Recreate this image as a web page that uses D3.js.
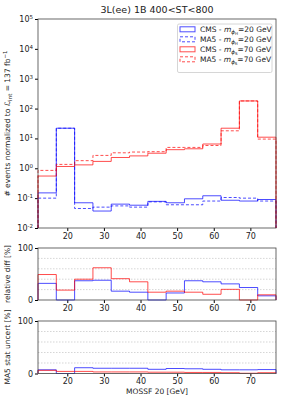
<!DOCTYPE html>
<html>
<head>
	<title>mossf</title>
	<style>
	body { margin: 0; background: #fff; }
	text { font-family: "DejaVu Sans", sans-serif; fill: #222; }
	.tick text { font-size: 8px; }
	.grid line { stroke: #bbb; stroke-dasharray: 1.5,1.5; stroke-width: 0.6; }
	</style>
	<script src="https://d3js.org/d3.v7.min.js"></script>
</head>
<body>
	<script type="text/javascript">
		// bin edges of MOSSF 20 [GeV]
		var binEdges = [12, 17, 22, 27, 32, 37, 42, 47, 52, 57, 62, 67, 72, 77];
		var xTicks = [20, 30, 40, 50, 60, 70];

		// events normalized to 137 fb^-1
		var cms20 = [0.15, 22, 0.07, 0.037, 0.063, 0.058, 0.078, 0.07, 0.095, 0.12, 0.085, 0.08, 0.09];
		var ma520 = [0.1, 22, 0.045, 0.05, 0.055, 0.05, 0.075, 0.06, 0.06, 0.08, 0.105, 0.1, 0.08];
		var cms70 = [0.55, 1.15, 1.3, 1.7, 2.3, 2.6, 3.2, 4.2, 4.5, 6.5, 22, 180, 11];
		var ma570 = [0.85, 1.35, 1.8, 2.7, 3.3, 3.5, 3.6, 5, 5, 5.8, 18, 180, 9.5];

		// relative diff [%]
		var diff20 = [32, 0, 37, 38, 17, 15, 0, 13.5, 37, 35, 31, 24, 8];
		var diff70 = [49, 19, 40, 62, 41, 35, 15, 17, 15, 11, 20.5, 0, 10];

		// MA5 stat uncert [%]
		var stat20 = [7, 0, 11, 10, 10, 10, 8, 9.5, 9, 8, 7, 7, 7.5];
		var stat70 = [6, 4, 4, 3, 3, 3, 2.5, 2.5, 2, 2, 1.5, 0.5, 1.5];

		var legendNames = ['CMS - ', 'MA5 - ', 'CMS - ', 'MA5 - '];

		var W = 289, H = 417;
		var left = 38, right = 276;
		var blue = 'rgba(0,0,255,0.7)', red = 'rgba(255,0,0,0.7)';

		var svg = d3.select('body').append('svg')
			.attr('width', W)
			.attr('height', H);

		var x = d3.scaleLinear().domain([12, 77]).range([left, right]);

		// 标题
		svg.append('text')
			.attr('x', (left + right) / 2).attr('y', 13)
			.attr('text-anchor', 'middle')
			.style('font-size', '9.5px')
			.text('3L(ee) 1B 400<ST<800');

		function stepPath(y, vals, base) {
			var d = 'M' + x(binEdges[0]) + ',' + base;
			vals.forEach(function (v, i) {
				var yy = y(v);
				d += 'L' + x(binEdges[i]) + ',' + yy + 'L' + x(binEdges[i + 1]) + ',' + yy;
			});
			d += 'L' + x(binEdges[binEdges.length - 1]) + ',' + base;
			return d;
		}

		function panel(top, bottom, y, ticks, fmt, grid) {
			var g = svg.append('g');
			if (grid) {
				g.append('g').attr('class', 'grid')
					.selectAll('line').data(grid).enter().append('line')
					.attr('x1', left).attr('x2', right)
					.attr('y1', function (d) { return y(d); })
					.attr('y2', function (d) { return y(d); });
			}
			g.append('g')
				.attr('transform', 'translate(0,' + bottom + ')')
				.call(d3.axisBottom(x).tickValues(xTicks).tickSize(3).tickPadding(2).tickFormat(d3.format('d')))
				.call(function (a) { a.select('.domain').remove(); });
			var ya = g.append('g')
				.attr('transform', 'translate(' + left + ',0)')
				.call(d3.axisLeft(y).tickValues(ticks).tickSize(3).tickPadding(2).tickFormat(fmt));
			ya.select('.domain').remove();
			return g;
		}

		function frame(top, bottom) {
			svg.append('rect')
				.attr('x', left).attr('y', top)
				.attr('width', right - left).attr('height', bottom - top)
				.attr('fill', 'none').attr('stroke', '#444').attr('stroke-width', 0.8);
		}

		// 主图
		var mTop = 19, mBot = 228;
		var yMain = d3.scaleLog().domain([1e-2, 1e5]).range([mBot, mTop]).clamp(true);
		panel(mTop, mBot, yMain, [1e-2, 1e-1, 1e0, 1e1, 1e2, 1e3, 1e4, 1e5], function () { return ''; });
		// 10^n labels
		svg.append('g').selectAll('text').data(d3.range(-2, 6)).enter().append('text')
			.attr('x', left - 5).attr('y', function (d) { return yMain(Math.pow(10, d)) + 3; })
			.attr('text-anchor', 'end')
			.style('font-size', '8px')
			.each(function (d) {
				var t = d3.select(this);
				t.append('tspan').text('10');
				t.append('tspan').attr('dy', -3).style('font-size', '5.5px').text(d);
			});

		var series = [
			{ v: cms20, c: blue, dash: null },
			{ v: ma520, c: blue, dash: '3,2' },
			{ v: cms70, c: red, dash: null },
			{ v: ma570, c: red, dash: '3,2' }
		];
		series.forEach(function (s) {
			svg.append('path')
				.attr('d', stepPath(yMain, s.v, mBot))
				.attr('fill', 'none')
				.attr('stroke', s.c)
				.attr('stroke-width', 1)
				.attr('stroke-dasharray', s.dash);
		});
		frame(mTop, mBot);

		// y 轴标题
		var yl = svg.append('text')
			.attr('transform', 'translate(10,' + ((mTop + mBot) / 2) + ') rotate(-90)')
			.attr('text-anchor', 'middle')
			.style('font-size', '7.5px');
		yl.append('tspan').text('# events normalized to ');
		yl.append('tspan').style('font-style', 'italic').text('\u2112');
		yl.append('tspan').attr('dy', 2).style('font-size', '5.5px').text('int');
		yl.append('tspan').attr('dy', -2).text(' = 137 fb');
		yl.append('tspan').attr('dy', -3).style('font-size', '5.5px').text('\u22121');

		// 图例
		var lg = svg.append('g');
		lg.append('rect').attr('x', 177.5).attr('y', 24).attr('width', 94.5).attr('height', 48.5)
			.attr('fill', '#fff').attr('stroke', '#ccc').attr('stroke-width', 0.8).attr('rx', 1.5);
		var masses = ['20', '20', '70', '70'];
		var subs = ['H', 'H', 'S', 'S'];
		series.forEach(function (s, i) {
			var yy = 29.3 + i * 10;
			lg.append('rect').attr('x', 180).attr('y', yy - 2.5).attr('width', 15).attr('height', 5)
				.attr('fill', 'none').attr('stroke', s.c).attr('stroke-width', 1)
				.attr('stroke-dasharray', s.dash);
			var t = lg.append('text').attr('x', 200).attr('y', yy + 2.7).style('font-size', '7.5px');
			t.append('tspan').text(legendNames[i]);
			t.append('tspan').style('font-style', 'italic').text('m');
			t.append('tspan').attr('dy', 2).style('font-size', '5.5px').style('font-style', 'italic').text('\u03d5');
			t.append('tspan').attr('dy', 1).style('font-size', '4px').text(subs[i]);
			t.append('tspan').attr('dy', -3).text('=' + masses[i] + ' GeV');
		});

		// 相对差
		var rTop = 248, rBot = 300;
		var yR = d3.scaleLinear().domain([0, 100]).range([rBot, rTop]);
		panel(rTop, rBot, yR, [0, 100], d3.format('d'), [20, 40, 60, 80]);
		[[diff20, blue], [diff70, red]].forEach(function (s) {
			svg.append('path').attr('d', stepPath(yR, s[0], rBot))
				.attr('fill', 'none').attr('stroke', s[1]).attr('stroke-width', 1);
		});
		frame(rTop, rBot);
		svg.append('text')
			.attr('transform', 'translate(10,' + 274 + ') rotate(-90)')
			.attr('text-anchor', 'middle').style('font-size', '7.5px')
			.text('relative diff [%]');

		// 统计不确定度
		var sTop = 321, sBot = 373.5;
		var yS = d3.scaleLinear().domain([0, 100]).range([sBot, sTop]);
		panel(sTop, sBot, yS, [0, 100], d3.format('d'), [20, 40, 60, 80]);
		[[stat20, blue], [stat70, red]].forEach(function (s) {
			svg.append('path').attr('d', stepPath(yS, s[0], sBot))
				.attr('fill', 'none').attr('stroke', s[1]).attr('stroke-width', 1);
		});
		frame(sTop, sBot);
		svg.append('text')
			.attr('transform', 'translate(10,' + 347 + ') rotate(-90)')
			.attr('text-anchor', 'middle').style('font-size', '7.5px')
			.text('MA5 stat uncert [%]');

		svg.append('text')
			.attr('x', (left + right) / 2).attr('y', 394)
			.attr('text-anchor', 'middle').style('font-size', '7.5px')
			.text('MOSSF 20 [GeV]');
	</script>
</body>
</html>
